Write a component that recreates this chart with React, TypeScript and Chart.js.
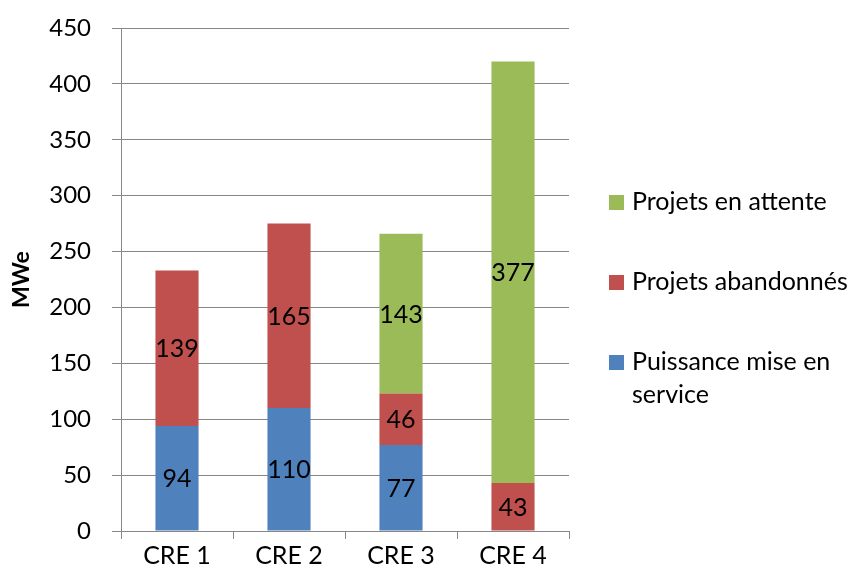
import React, { useEffect, useRef } from 'react';
import { Chart, registerables } from 'chart.js';

Chart.register(...registerables);

const categories = ['CRE 1', 'CRE 2', 'CRE 3', 'CRE 4'];
const puissance = [94, 110, 77, 0];
const abandonnes = [139, 165, 46, 43];
const attente = [0, 0, 143, 377];
const seriesLabels = ['Puissance mise en service', 'Projets abandonnés', 'Projets en attente'];
const legendLines = [['Puissance mise en', 'service'], ['Projets abandonnés'], ['Projets en attente']];
const colors = ['#4F81BD', '#C0504D', '#9BBB59'];
const yAxisTitle = 'MWe';

const FONT = 'Lato';

const dataLabelsPlugin = {
  id: 'segLabels',
  afterDatasetsDraw(chart: any) {
    const ctx = chart.ctx;
    ctx.save();
    ctx.font = `25px ${FONT}`;
    ctx.fillStyle = '#000';
    ctx.textAlign = 'center';
    ctx.textBaseline = 'middle';
    chart.data.datasets.forEach((ds: any, di: number) => {
      const meta = chart.getDatasetMeta(di);
      meta.data.forEach((el: any, i: number) => {
        const v = ds.data[i];
        if (!v) return;
        ctx.fillText(String(v), el.x, (el.y + el.base) / 2 + 1);
      });
    });
    ctx.restore();
  },
};

const legendPlugin = {
  id: 'customLegend',
  afterDraw(chart: any) {
    const ctx = chart.ctx;
    ctx.save();
    ctx.font = `25px ${FONT}`;
    ctx.textBaseline = 'middle';
    ctx.textAlign = 'left';
    const boxX = 609;
    const textX = 632;
    const ys = [362, 282, 202];
    for (let i = chart.data.datasets.length - 1; i >= 0; i--) {
      const y = ys[i];
      ctx.fillStyle = colors[i];
      ctx.fillRect(boxX, y - 7, 15, 15);
      ctx.fillStyle = '#000';
      legendLines[i].forEach((line, li) => {
        ctx.fillText(line, textX, y + li * 33);
      });
    }
    ctx.restore();
  },
};

export default function App() {
  const ref = useRef<HTMLCanvasElement>(null);
  useEffect(() => {
    const series = [puissance, abandonnes, attente];
    const chart = new Chart(ref.current!, {
      type: 'bar',
      data: {
        labels: categories,
        datasets: series.map((d, i) => ({
          label: seriesLabels[i],
          data: d,
          backgroundColor: colors[i],
          barPercentage: 0.385,
          categoryPercentage: 1,
        })),
      },
      options: {
        animation: false,
        responsive: false,
        maintainAspectRatio: false,
        layout: { padding: { left: 0, right: 281, top: 28, bottom: 0 } },
        plugins: {
          legend: { display: false },
          tooltip: { enabled: false },
          title: { display: false },
        },
        scales: {
          x: {
            stacked: true,
            grid: {
              offset: true,
              drawOnChartArea: false,
              drawTicks: true,
              tickLength: 8,
              color: '#878787',
            },
            border: { display: true, color: '#878787', width: 1 },
            ticks: {
              color: '#000',
              font: { family: FONT, size: 25 },
              padding: 2,
              maxRotation: 0,
            },
            afterFit(scale: any) {
              scale.height = 46;
              scale.paddingLeft = 0;
              scale.paddingRight = 0;
            },
          },
          y: {
            stacked: true,
            min: 0,
            max: 450,
            ticks: {
              stepSize: 50,
              color: '#000',
              font: { family: FONT, size: 24 },
              padding: 21,
            },
            grid: {
              color: '#878787',
              tickLength: 9,
              drawTicks: true,
            },
            border: { display: true, color: '#878787', width: 1 },
            title: {
              display: true,
              text: yAxisTitle,
              color: '#000',
              font: { family: FONT, size: 23, weight: 'bold' },
              padding: { top: 8, bottom: 0 },
            },
            afterFit(scale: any) {
              scale.width = 121;
              scale.paddingTop = 0;
              scale.paddingBottom = 0;
            },
          },
        },
      },
      plugins: [dataLabelsPlugin, legendPlugin],
    });
    return () => chart.destroy();
  }, []);
  return (
    <div style={{ position: 'absolute', left: 0, top: 0, width: 850, height: 577, background: '#fff' }}>
      <canvas ref={ref} width={850} height={577} style={{ display: 'block' }} />
    </div>
  );
}
